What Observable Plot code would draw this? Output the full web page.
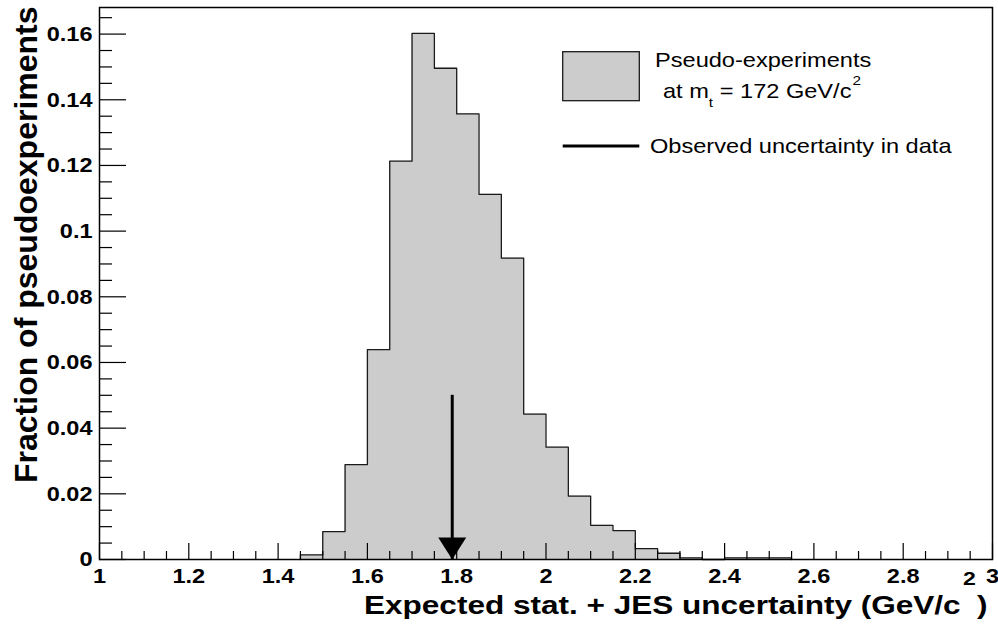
<!DOCTYPE html>
<html>
<head>
<meta charset="utf-8">
<script src="https://cdn.jsdelivr.net/npm/d3@7"></script>
<script src="https://cdn.jsdelivr.net/npm/@observablehq/plot@0.6"></script>
<style>
  html, body { margin: 0; padding: 0; background: #fff; }
  svg { display: block; }
</style>
</head>
<body>
<script>
// ---- data ----
const binStart = [1.45, 1.50, 1.55, 1.60, 1.65, 1.70, 1.75, 1.80, 1.85, 1.90, 1.95,
                  2.00, 2.05, 2.10, 2.15, 2.20, 2.25, 2.30, 2.35, 2.40, 2.45, 2.50];
const fraction = [0.0014, 0.0085, 0.0289, 0.0639, 0.1213, 0.1602, 0.1496, 0.1357, 0.1112, 0.0918, 0.0443,
                  0.0342, 0.0193, 0.0104, 0.0088, 0.0033, 0.0019, 0.0005, 0.0000, 0.0005, 0.0005, 0.0005];
const binWidth = 0.05;
const observedUncertainty = 1.79;
const arrowTop = 0.05;
const xMajorTicks = [1, 1.2, 1.4, 1.6, 1.8, 2, 2.2, 2.4, 2.6, 2.8, 3];
const yMajorTicks = [0, 0.02, 0.04, 0.06, 0.08, 0.1, 0.12, 0.14, 0.16];
const xDomain = [1, 3];
const yDomain = [0, 0.1681];
const xTitle = "Expected stat. + JES uncertainty (GeV/c";
const yTitle = "Fraction of pseudoexperiments";

// ---- derived tables ----
const bins = binStart.map((x, i) => ({x1: x, x2: x + binWidth, y: fraction[i]}));
const outline = [{x: bins[0].x1, y: 0}, ...bins.map(b => ({x: b.x1, y: b.y})), {x: bins[bins.length - 1].x2, y: 0}];
const xMinorTicks = d3.range(0, 41).map(i => 1 + i * 0.05).filter(v => !xMajorTicks.some(t => Math.abs(t - v) < 1e-9));
const yMinorTicks = d3.range(0, 34).map(i => i * 0.005).filter(v => v <= yDomain[1] && !yMajorTicks.some(t => Math.abs(t - v) < 1e-9));

const W = 998, H = 629;
const mL = 99, mR = 6, mT = 7, mB = 70;
const frameW = W - mL - mR, frameH = H - mT - mB;
const FONT = "'Liberation Sans', Arial, Helvetica, sans-serif";

const downTriangle = {
  draw(ctx) { ctx.moveTo(0, 0); ctx.lineTo(-14, -22); ctx.lineTo(14, -22); ctx.closePath(); }
};

const svgNode = Plot.plot({
  width: W, height: H,
  marginLeft: mL, marginRight: mR, marginTop: mT, marginBottom: mB,
  style: {fontFamily: FONT, background: "white", color: "black", overflow: "visible"},
  x: {domain: xDomain},
  y: {domain: yDomain},
  marks: [
    Plot.areaY(outline, {x: "x", y: "y", curve: "step-after", fill: "#cccccc"}),
    Plot.line(outline, {x: "x", y: "y", curve: "step-after", stroke: "#1a1a1a", strokeWidth: 1.3}),
    Plot.tickX(xMinorTicks, {x: d => d, insetTop: frameH - 8, stroke: "black", strokeWidth: 1.2}),
    Plot.tickX(xMajorTicks, {x: d => d, insetTop: frameH - 16, stroke: "black", strokeWidth: 1.2}),
    Plot.tickY(yMinorTicks, {y: d => d, insetRight: frameW - 13, stroke: "black", strokeWidth: 1.2}),
    Plot.tickY(yMajorTicks, {y: d => d, insetRight: frameW - 27, stroke: "black", strokeWidth: 1.2}),
    Plot.axisX(xMajorTicks, {tickSize: 0, tickPadding: 9, fontSize: 21, fontWeight: "bold", label: null, tickFormat: d => String(d)}),
    Plot.axisY(yMajorTicks, {tickSize: 0, tickPadding: 7, fontSize: 21, fontWeight: "bold", label: null, tickFormat: d => String(d)}),
    Plot.ruleX([observedUncertainty], {x: d => d, y1: 0, y2: arrowTop, stroke: "black", strokeWidth: 3}),
    Plot.dot([observedUncertainty], {x: d => d, y: 0, symbol: downTriangle, r: 10, fill: "black", stroke: "none"}),
    Plot.frame({stroke: "black", strokeWidth: 1.5})
  ]
});
document.body.append(svgNode);
const svg = d3.select(svgNode);

// widen tick labels slightly to match the reference glyph proportions
svg.selectAll("g[aria-label='x-axis tick label'] text, g[aria-label='y-axis tick label'] text").each(function () {
  const w = this.getComputedTextLength();
  this.setAttribute("textLength", (w * 1.12).toFixed(1));
  this.setAttribute("lengthAdjust", "spacingAndGlyphs");
});

// x-axis title
const xt = svg.append("text").attr("font-family", FONT).attr("font-weight", "bold").attr("font-size", 26)
  .attr("fill", "black").attr("text-anchor", "start");
xt.append("tspan").text(xTitle);
xt.append("tspan").attr("font-size", 19).attr("dy", -29).attr("dx", 2).text("2");
xt.append("tspan").attr("font-size", 26).attr("dy", 29).attr("dx", 1).text(")");
const xtw = xt.node().getBBox().width;
xt.attr("transform", `translate(364,614) scale(${(624 / xtw).toFixed(4)},1)`);

// y-axis title
svg.append("text").attr("font-family", FONT).attr("font-weight", "bold").attr("font-size", 32).attr("fill", "black")
  .attr("text-anchor", "start")
  .attr("transform", "translate(37,483) rotate(-90)")
  .text(yTitle);

// legend
const lg = svg.append("g").attr("font-family", FONT).attr("fill", "black").attr("text-anchor", "start");
lg.append("rect").attr("x", 562.7).attr("y", 51.7).attr("width", 76.6).attr("height", 49)
  .attr("fill", "#cccccc").attr("stroke", "#1a1a1a").attr("stroke-width", 1.3);
lg.append("line").attr("x1", 562.7).attr("x2", 639.3).attr("y1", 146).attr("y2", 146)
  .attr("stroke", "black").attr("stroke-width", 3);
const legendScale = 1.18;
lg.append("text").attr("font-size", 20).attr("transform", `translate(655,67.3) scale(${legendScale},1)`)
  .text("Pseudo-experiments");
const l2 = lg.append("text").attr("font-size", 20).attr("transform", `translate(663,98.3) scale(${legendScale},1)`);
l2.append("tspan").text("at m");
l2.append("tspan").attr("font-size", 13).attr("dy", 8.5).text("t");
l2.append("tspan").attr("font-size", 20).attr("dy", -8.5).text(" = 172 GeV/c");
l2.append("tspan").attr("font-size", 13).attr("dy", -13).attr("dx", 1).text("2");
lg.append("text").attr("font-size", 20).attr("transform", `translate(650,152.5) scale(${legendScale},1)`)
  .text("Observed uncertainty in data");
</script>
</body>
</html>
